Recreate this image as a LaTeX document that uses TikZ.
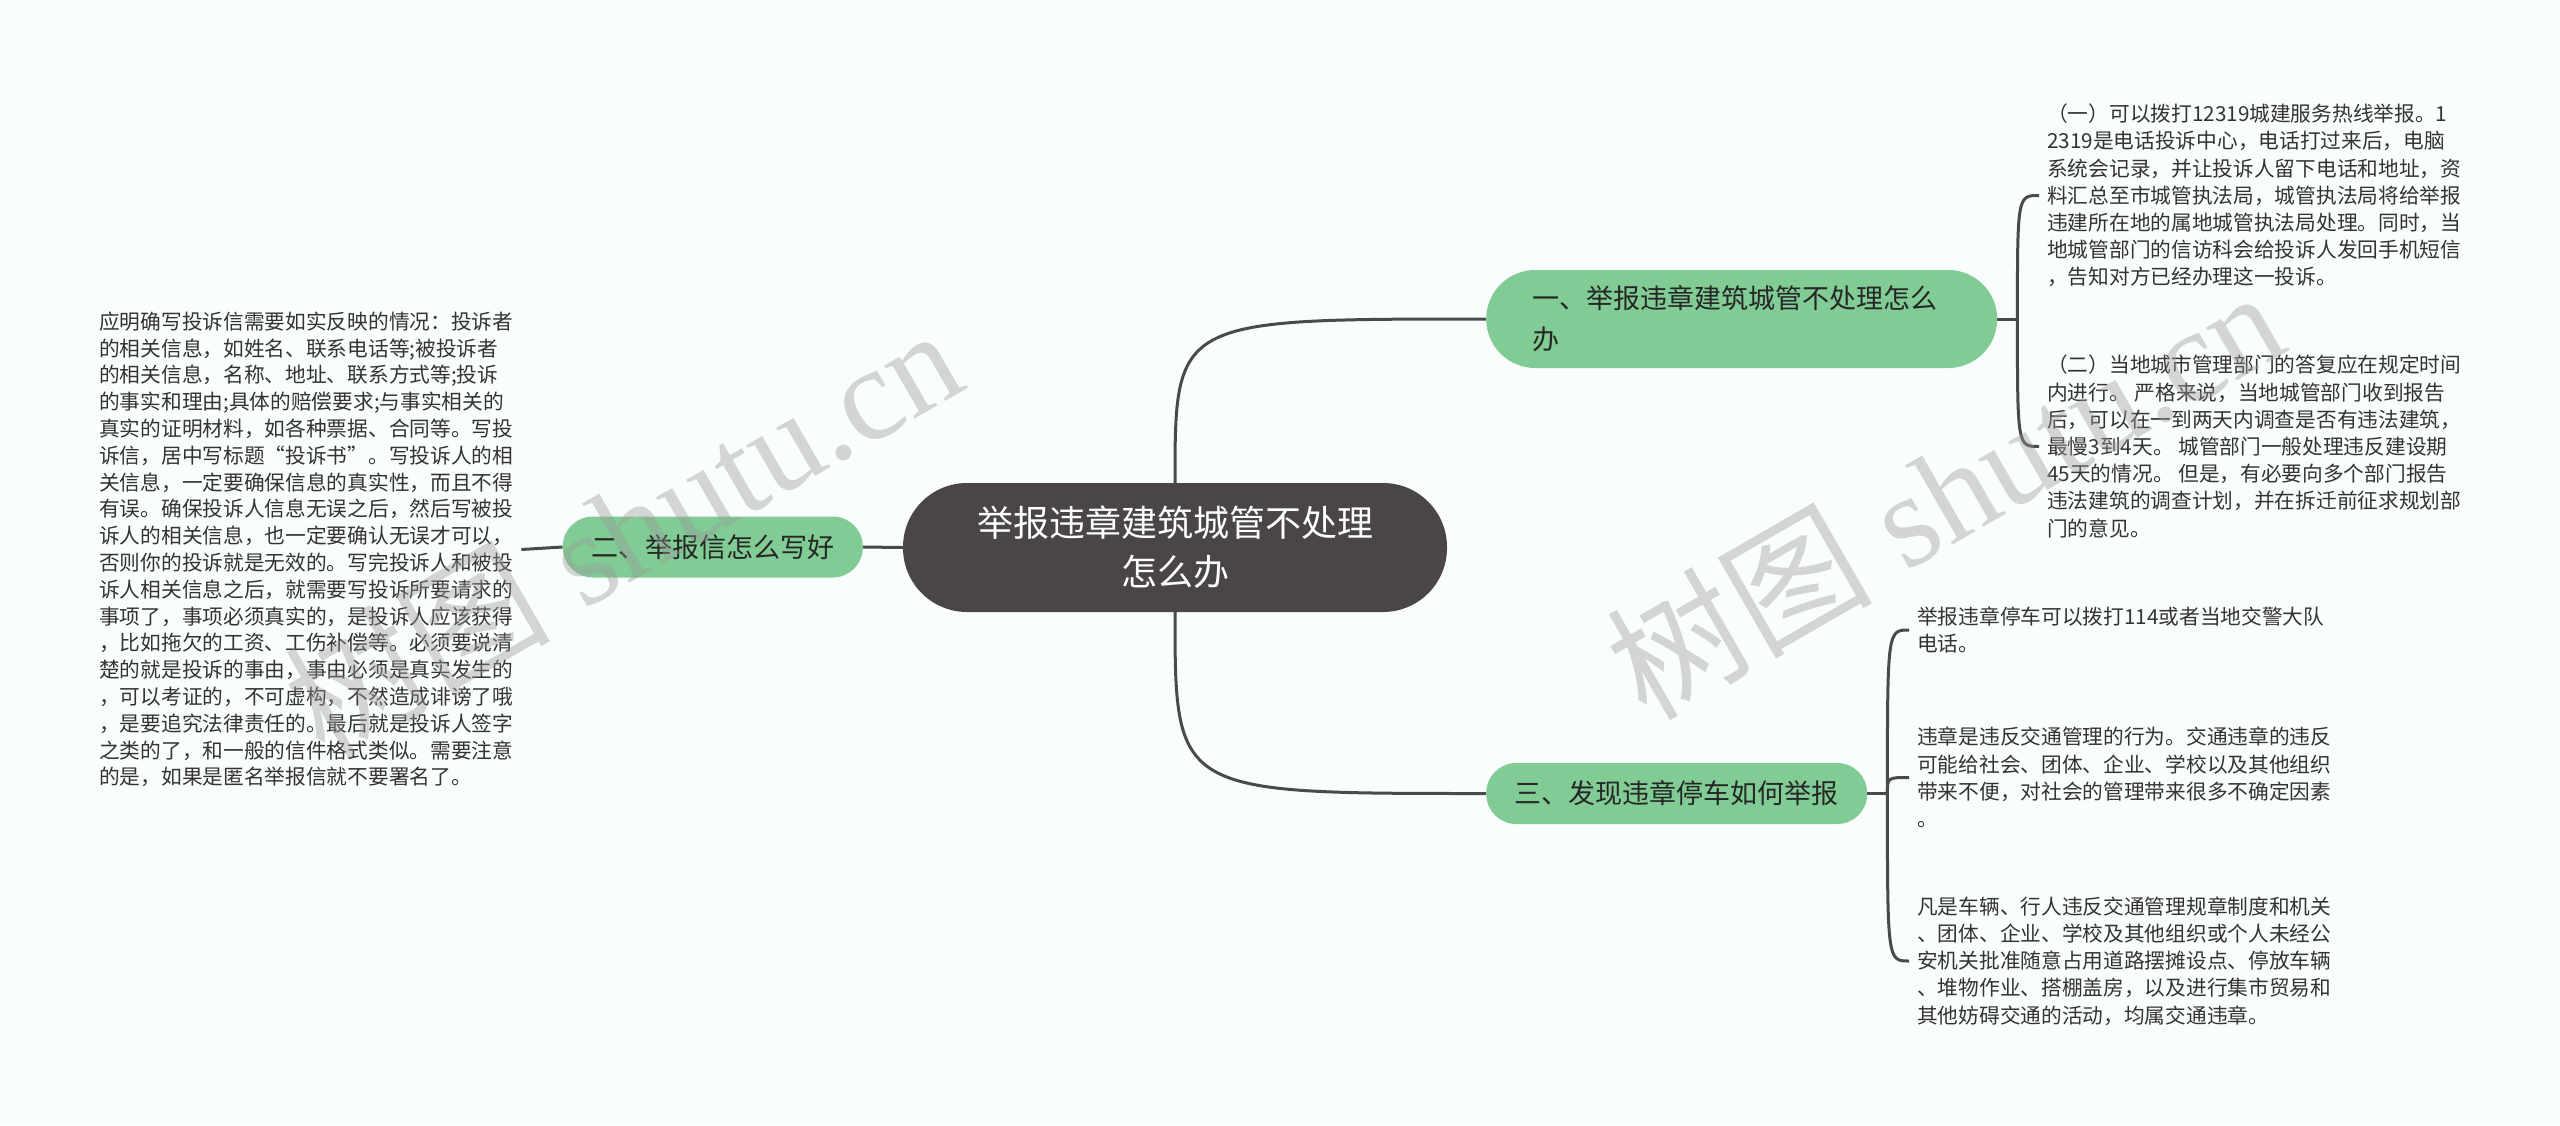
\documentclass[tikz,border=0pt]{standalone}
\usepackage{fontspec}
\newfontfamily\cjk{Noto Sans CJK SC}
\newfontfamily\wmlat{Liberation Serif}
\definecolor{bgc}{HTML}{FAFDFD}
\definecolor{cdark}{HTML}{4A4646}
\definecolor{cgreen}{HTML}{80CC94}
\definecolor{cline}{HTML}{4A4A4A}
\definecolor{ctext}{HTML}{333333}
\pgfdeclarelayer{back}
\pgfdeclarelayer{lines}
\pgfsetlayers{back,lines,main}
\begin{document}
\begin{tikzpicture}[x=1pt,y=-1pt,
  conn/.style={draw=cline,line width=3pt},
  root/.style={fill=cdark,text=white,rounded corners=64pt,minimum width=544pt,minimum height=129pt,font=\cjk\fontsize{36}{49}\selectfont,align=center,inner sep=0pt},
  branch/.style={fill=cgreen,text=black!85,font=\cjk\fontsize{27}{41}\selectfont,inner ysep=0pt},
  leaf/.style={text=ctext,font=\cjk\fontsize{20.7}{27.2}\selectfont,align=left,inner xsep=8pt,inner ysep=0pt,anchor=west},
  wm/.style={text=black!40,text opacity=0.4,rotate=30,inner sep=0pt}]
\begin{pgfonlayer}{back}
\fill[bgc] (0,0) rectangle (2560,1125);
\end{pgfonlayer}
\useasboundingbox (0,0) rectangle (2560,1125);

\node[root] (c) at (1175,547.5) {举报违章建筑城管不处理\\怎么办};

\node[branch,rounded corners=49pt,minimum width=511pt,minimum height=98pt,text width=419pt,inner xsep=46pt,align=left,anchor=west] (b1) at (1486,319) {一、举报违章建筑城管不处理怎么\\办};
\node[branch,rounded corners=30pt,minimum height=61pt,inner xsep=28.5pt,anchor=east] (b2) at (863,547) {二、举报信怎么写好};
\node[branch,rounded corners=30pt,minimum height=61pt,inner xsep=28.5pt,anchor=west] (b3) at (1486,793.5) {三、发现违章停车如何举报};

\node[leaf] (l1) at (2039,195.5) {（一）可以拨打12319城建服务热线举报。1\\2319是电话投诉中心，电话打过来后，电脑\\系统会记录，并让投诉人留下电话和地址，资\\料汇总至市城管执法局，城管执法局将给举报\\违建所在地的属地城管执法局处理。同时，当\\地城管部门的信访科会给投诉人发回手机短信\\，告知对方已经办理这一投诉。};
\node[leaf] (l2) at (2039,446.5) {（二）当地城市管理部门的答复应在规定时间\\内进行。 严格来说，当地城管部门收到报告\\后，可以在一到两天内调查是否有违法建筑，\\最慢3到4天。 城管部门一般处理违反建设期\\45天的情况。 但是，有必要向多个部门报告\\违法建筑的调查计划，并在拆迁前征求规划部\\门的意见。};
\node[leaf] (l3a) at (1909,630) {举报违章停车可以拨打114或者当地交警大队\\电话。};
\node[leaf] (l3b) at (1909,777.5) {违章是违反交通管理的行为。交通违章的违反\\可能给社会、团体、企业、学校以及其他组织\\带来不便，对社会的管理带来很多不确定因素\\。};
\node[leaf] (l3c) at (1909,961) {凡是车辆、行人违反交通管理规章制度和机关\\、团体、企业、学校及其他组织或个人未经公\\安机关批准随意占用道路摆摊设点、停放车辆\\、堆物作业、搭棚盖房，以及进行集市贸易和\\其他妨碍交通的活动，均属交通违章。};
\node[leaf,font=\cjk\fontsize{20.7}{26.8}\selectfont] (lb) at (91,549.5) {应明确写投诉信需要如实反映的情况：投诉者\\的相关信息，如姓名、联系电话等;被投诉者\\的相关信息，名称、地址、联系方式等;投诉\\的事实和理由;具体的赔偿要求;与事实相关的\\真实的证明材料，如各种票据、合同等。写投\\诉信，居中写标题“投诉书”。写投诉人的相\\关信息，一定要确保信息的真实性，而且不得\\有误。确保投诉人信息无误之后，然后写被投\\诉人的相关信息，也一定要确认无误才可以，\\否则你的投诉就是无效的。写完投诉人和被投\\诉人相关信息之后，就需要写投诉所要请求的\\事项了，事项必须真实的，是投诉人应该获得\\，比如拖欠的工资、工伤补偿等。必须要说清\\楚的就是投诉的事由，事由必须是真实发生的\\，可以考证的，不可虚构，不然造成诽谤了哦\\，是要追究法律责任的。最后就是投诉人签字\\之类的了，和一般的信件格式类似。需要注意\\的是，如果是匿名举报信就不要署名了。};

\coordinate (j1) at ([xshift=20pt]b1.east);
\coordinate (j3) at ([xshift=20pt]b3.east);

\begin{pgfonlayer}{lines}
\draw[conn] (c.west) -- (b2.east);
\draw[conn] (b2.west) -- (lb.east);
\draw[conn] (c.north) .. controls (c.north |- b1.west) .. (b1.west);
\draw[conn] (c.south) .. controls (c.south |- b3.west) .. (b3.west);
\draw[conn] (b1.east) -- (j1);
\draw[conn] (j1) .. controls (j1 |- l1.west) .. (l1.west);
\draw[conn] (j1) .. controls (j1 |- l2.west) .. (l2.west);
\draw[conn] (b3.east) -- (j3);
\draw[conn] (j3) .. controls (j3 |- l3a.west) .. (l3a.west);
\draw[conn] (j3) .. controls (j3 |- l3b.west) .. (l3b.west);
\draw[conn] (j3) .. controls (j3 |- l3c.west) .. (l3c.west);
\end{pgfonlayer}

\node[wm] (wm1) at (622,530) {\fontsize{133}{133}\selectfont\cjk 树图\hspace{33pt}\wmlat shutu.cn};
\node[wm] (wm2) at (1944,492) {\fontsize{133}{133}\selectfont\cjk 树图\hspace{33pt}\wmlat shutu.cn};
\end{tikzpicture}
\end{document}
